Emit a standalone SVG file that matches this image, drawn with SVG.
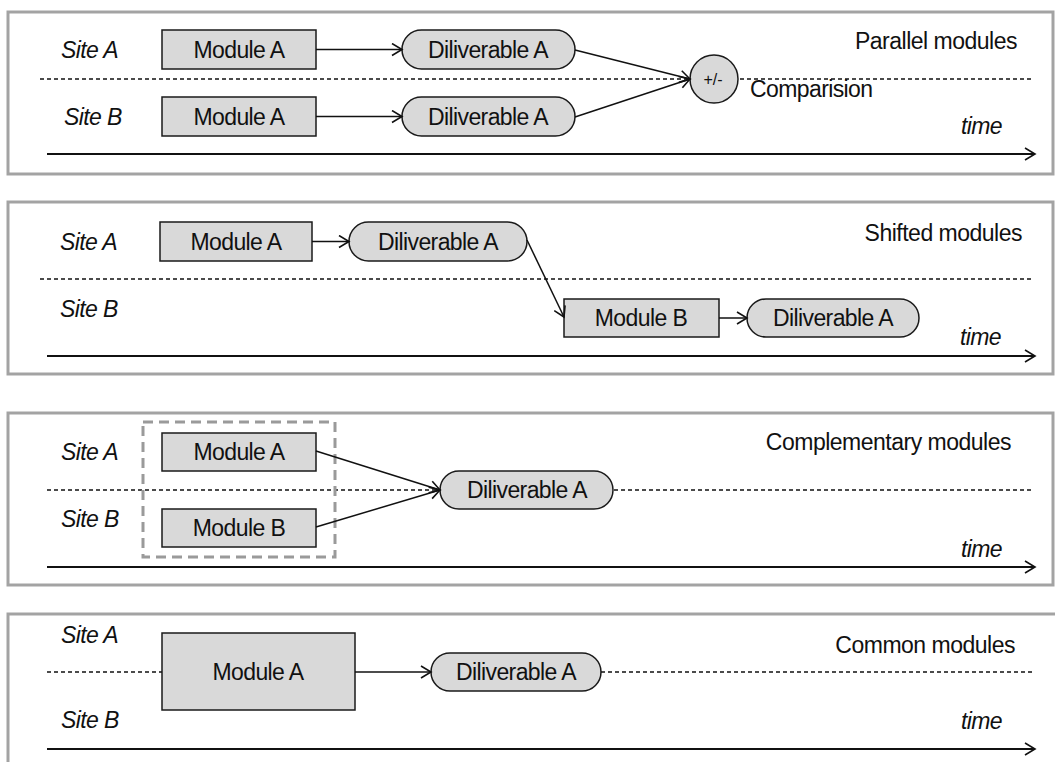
<svg xmlns="http://www.w3.org/2000/svg" width="1055" height="762" viewBox="0 0 1055 762">
<style>
.frame{fill:none;stroke:#a3a3a3;stroke-width:3}
.mod{fill:#d9d9d9;stroke:#1a1a1a;stroke-width:1.5}
.lbl{font-family:"Liberation Sans",Arial,sans-serif;font-size:23px;letter-spacing:-0.6px;fill:#111;text-anchor:middle}
.site{font-family:"Liberation Sans",Arial,sans-serif;font-size:23px;letter-spacing:-0.6px;font-style:italic;fill:#111}
.plain{font-family:"Liberation Sans",Arial,sans-serif;font-size:23px;letter-spacing:-0.6px;fill:#111}
.title{font-family:"Liberation Sans",Arial,sans-serif;font-size:23px;letter-spacing:-0.5px;fill:#111;text-anchor:end}
.time{font-family:"Liberation Sans",Arial,sans-serif;font-size:23px;letter-spacing:-0.6px;font-style:italic;fill:#111;text-anchor:end}
.dash{stroke:#111;stroke-width:1.5;stroke-dasharray:4 3;fill:none}
.con{stroke:#111;stroke-width:1.5;fill:none;marker-end:url(#arr)}
.axis{stroke:#111;stroke-width:1.8;fill:none;marker-end:url(#arr)}
.gbox{fill:none;stroke:#9a9a9a;stroke-width:3;stroke-dasharray:10 6}
</style>
<defs>
<marker id="arr" markerUnits="userSpaceOnUse" markerWidth="14" markerHeight="14" refX="12" refY="7" orient="auto">
<path d="M2,1 L12,7 L2,13" fill="none" stroke="#111" stroke-width="1.6"/>
</marker>
</defs>
<rect width="1055" height="762" fill="#fff"/>

<!-- Panel 1: Parallel modules -->
<g id="panel1">
<rect class="frame" x="8" y="12" width="1045" height="162"/>
<line class="dash" x1="40" y1="79" x2="1033" y2="79"/>
<text class="site" x="61" y="58">Site A</text>
<text class="site" x="64" y="125">Site B</text>
<text class="title" x="1017" y="49">Parallel modules</text>
<text class="plain" x="750" y="97">Comparision</text>
<text class="time" x="1002" y="134">time</text>
</g>
<g id="p1-moduleA1"><rect class="mod" x="162" y="30" width="154" height="39"/><text class="lbl" x="239" y="58">Module A</text></g>
<g id="p1-moduleA2"><rect class="mod" x="162" y="97" width="154" height="39"/><text class="lbl" x="239" y="125">Module A</text></g>
<g id="p1-deliv1"><rect class="mod" x="402" y="30" width="173" height="39" rx="19.5"/><text class="lbl" x="488" y="58">Diliverable A</text></g>
<g id="p1-deliv2"><rect class="mod" x="402" y="97" width="173" height="39" rx="19.5"/><text class="lbl" x="488" y="125">Diliverable A</text></g>
<g id="p1-compare"><circle class="mod" cx="714" cy="79" r="24"/><text class="lbl" x="713" y="85" style="font-size:16px;letter-spacing:0">+/-</text></g>

<!-- Panel 2: Shifted modules -->
<g id="panel2">
<rect class="frame" x="8" y="202" width="1045" height="172"/>
<line class="dash" x1="40" y1="279" x2="1033" y2="279"/>
<text class="site" x="60" y="250">Site A</text>
<text class="site" x="60" y="317">Site B</text>
<text class="title" x="1022" y="241">Shifted modules</text>
<text class="time" x="1001" y="345">time</text>
</g>
<g id="p2-moduleA"><rect class="mod" x="160" y="222" width="152" height="39"/><text class="lbl" x="236" y="250">Module A</text></g>
<g id="p2-deliv1"><rect class="mod" x="349" y="222" width="178" height="39" rx="19.5"/><text class="lbl" x="438" y="250">Diliverable A</text></g>
<g id="p2-moduleB"><rect class="mod" x="564" y="299" width="155" height="38"/><text class="lbl" x="641" y="326">Module B</text></g>
<g id="p2-deliv2"><rect class="mod" x="747" y="299" width="172" height="38" rx="19"/><text class="lbl" x="833" y="326">Diliverable A</text></g>

<!-- Panel 3: Complementary modules -->
<g id="panel3">
<rect class="frame" x="8" y="413" width="1045" height="172"/>
<line class="dash" x1="47" y1="490" x2="1033" y2="490"/>
<text class="site" x="61" y="460">Site A</text>
<text class="site" x="61" y="527">Site B</text>
<text class="title" x="1011" y="450">Complementary modules</text>
<text class="time" x="1002" y="557">time</text>
</g>
<g id="p3-group"><rect class="gbox" x="143" y="422" width="192" height="135"/></g>
<g id="p3-moduleA"><rect class="mod" x="162" y="433" width="154" height="38"/><text class="lbl" x="239" y="460">Module A</text></g>
<g id="p3-moduleB"><rect class="mod" x="162" y="509" width="154" height="38"/><text class="lbl" x="239" y="536">Module B</text></g>
<g id="p3-deliv"><rect class="mod" x="440" y="471" width="173" height="38" rx="19"/><text class="lbl" x="527" y="498">Diliverable A</text></g>

<!-- Panel 4: Common modules -->
<g id="panel4">
<rect class="frame" x="8" y="614" width="1052" height="200"/>
<line class="dash" x1="47" y1="672" x2="162" y2="672"/>
<line class="dash" x1="601" y1="672" x2="1033" y2="672"/>
<text class="site" x="61" y="643">Site A</text>
<text class="site" x="61" y="728">Site B</text>
<text class="title" x="1015" y="653">Common modules</text>
<text class="time" x="1002" y="729">time</text>
</g>
<g id="p4-moduleA"><rect class="mod" x="162" y="633" width="193" height="77"/><text class="lbl" x="258" y="680">Module A</text></g>
<g id="p4-deliv"><rect class="mod" x="431" y="653" width="170" height="38" rx="19"/><text class="lbl" x="516" y="680">Diliverable A</text></g>

<g id="connectors">
<line class="axis" x1="47" y1="154" x2="1035" y2="154"/>
<line class="axis" x1="47" y1="356" x2="1035" y2="356"/>
<line class="axis" x1="47" y1="567" x2="1035" y2="567"/>
<line class="axis" x1="47" y1="749" x2="1035" y2="749"/>
<line class="con" x1="316" y1="49.5" x2="402" y2="49.5"/>
<line class="con" x1="316" y1="116.5" x2="402" y2="116.5"/>
<line class="con" x1="575" y1="50" x2="690" y2="79"/>
<line class="con" x1="575" y1="117" x2="690" y2="79"/>
<line class="con" x1="312" y1="241.5" x2="349" y2="241.5"/>
<line class="con" x1="527" y1="240" x2="564" y2="317"/>
<line class="con" x1="719" y1="318" x2="747" y2="318"/>
<line class="con" x1="316" y1="451" x2="440" y2="490"/>
<line class="con" x1="316" y1="527" x2="440" y2="490"/>
<line class="con" x1="355" y1="672" x2="431" y2="672"/>
</g>
</svg>
